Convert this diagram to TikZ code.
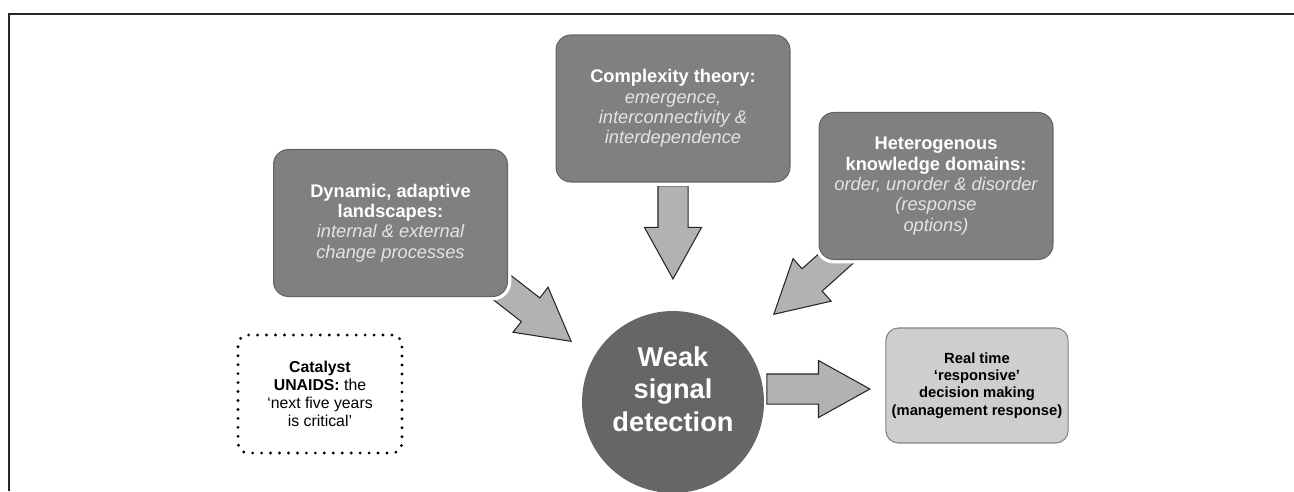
\documentclass[tikz,border=0pt]{standalone}
\usepackage{fontspec}
\setmainfont{Liberation Sans}
\usetikzlibrary{shapes.arrows}

\definecolor{boxfill}{RGB}{128,128,128}
\definecolor{boxline}{RGB}{100,100,100}
\definecolor{softtext}{RGB}{228,228,228}
\definecolor{circfill}{RGB}{102,102,102}
\definecolor{arrowfill}{RGB}{178,178,178}
\definecolor{outfill}{RGB}{206,206,206}
\definecolor{outline}{RGB}{130,130,130}

\newcommand{\soft}[1]{{\mdseries\itshape\color{softtext}#1}}

\begin{document}
\begin{tikzpicture}[x = 0.02cm, y = -0.02cm,
	themebox/.style = {rectangle, rounded corners = 0.3cm, fill = boxfill, draw = boxline, line width = 0.6pt,
		preaction = {draw = white, line width = 4.5pt},
		minimum width = 4.68cm, minimum height = 2.94cm, align = center, text = white,
		font = \fontsize{10.4}{11.6}\selectfont\bfseries},
	bigarrow/.style = {single arrow, fill = arrowfill, draw = black!85, line width = 0.6pt,
		minimum height = 1.86cm, inner xsep = 0pt, inner ysep = 0.29cm,
		single arrow head extend = 0.27cm, single arrow tip angle = 58, anchor = tip}]

	\useasboundingbox (0, 0) rectangle (1294, 491);

	% Frame

	\draw [line width = 1.1pt, black!85] (9, 491) -- (9, 14) -- (1294, 14);

	% Block arrows

	\node [bigarrow, rotate = -37.9] (arrDyn) at (572, 342) {};
	\node [bigarrow, rotate = -90] (arrCplx) at (673, 280) {};
	\node [bigarrow, rotate = -138.1] (arrHet) at (773, 315) {};
	\node [bigarrow, rotate = 0, minimum height = 2.06cm] (arrOut) at (871, 389) {};

	% Theme boxes

	\node [themebox] (dyn) at (390.5, 223) {Dynamic, adaptive\\landscapes:\\\soft{internal \& external}\\\soft{change processes}};
	\node [themebox] (cplx) at (673, 108.5) {Complexity theory:\\\soft{emergence,}\\\soft{interconnectivity \&}\\\soft{interdependence}};
	\node [themebox] (het) at (936, 186) {Heterogenous\\knowledge domains:\\\soft{order, unorder \& disorder}\\\soft{(response}\\\soft{options)}};

	% Centre

	\node [circle, fill = circfill, minimum size = 3.64cm, inner sep = 0pt] (weak) at (673, 402) {};
	\node [align = center, text = white, yshift = 0.26cm,
		font = \fontsize{15.5}{18.5}\selectfont\bfseries] (weakText) at (weak) {Weak\\signal\\detection};

	% Outcome and catalyst

	\node [rectangle, rounded corners = 0.25cm, fill = outfill, draw = outline, line width = 0.6pt,
		minimum width = 3.64cm, minimum height = 2.3cm, align = center,
		font = \fontsize{8.4}{9.8}\selectfont\bfseries] (resp) at (977, 385.5) {Real time\\‘responsive’\\decision making\\(management response)};

	\node [rectangle, rounded corners = 0.2cm, draw = black, line width = 1.8pt, line cap = round,
		dash pattern = on 0pt off 5.1pt, minimum width = 3.28cm, minimum height = 2.36cm, align = center,
		font = \fontsize{9}{10.3}\selectfont] (cat) at (320, 394) {\textbf{Catalyst}\\\textbf{UNAIDS:} the\\‘next five years\\is critical’};

\end{tikzpicture}
\end{document}
